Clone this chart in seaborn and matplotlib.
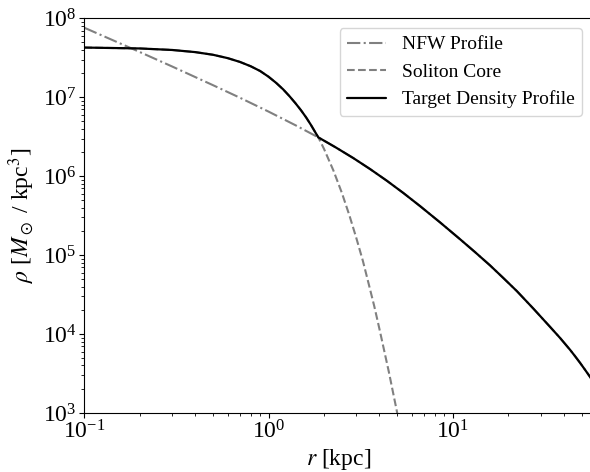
import numpy as np
import pandas as pd
import matplotlib
matplotlib.use("Agg")
import matplotlib.pyplot as plt
import seaborn as sns

# Radii [kpc] and densities [Msun / kpc^3] for each profile
r_nfw = [0.1, 0.15, 0.2, 0.3, 0.5, 0.7, 1.0, 1.4, 1.864, 2.32, 2.887, 3.56,
         4.383, 5.40, 6.645, 8.53, 10.96, 13.2, 15.94, 18.8, 22.26, 27.4,
         33.75, 38.3, 43.35, 46.1, 49.1, 52.2, 55.6, 60.0]
rho_nfw = [7.60e7, 5.02e7, 3.74e7, 2.45e7, 1.42e7, 9.85e6, 6.58e6, 4.42e6,
           3.10e6, 2.31e6, 1.694e6, 1.23e6, 8.77e5, 6.11e5, 4.18e5, 2.60e5,
           1.589e5, 1.094e5, 7.41e4, 5.14e4, 3.51e4, 2.10e4, 1.233e4, 8.89e3,
           6.31e3, 5.25e3, 4.32e3, 3.54e3, 2.87e3, 2.20e3]

r_sol = [0.1, 0.2, 0.3, 0.4, 0.5, 0.6, 0.7, 0.8, 0.9, 1.0, 1.1, 1.2, 1.3,
         1.4, 1.5, 1.6, 1.7, 1.8, 1.864, 2.0, 2.25, 2.5, 2.75, 3.0, 3.25,
         3.5, 3.75, 4.0, 4.5, 5.0, 5.25]
rho_sol = [4.26e7, 4.15e7, 3.97e7, 3.73e7, 3.45e7, 3.13e7, 2.80e7, 2.47e7,
           2.15e7, 1.82e7, 1.52e7, 1.26e7, 1.03e7, 8.40e6, 6.85e6, 5.55e6,
           4.45e6, 3.55e6, 3.10e6, 2.22e6, 1.18e6, 6.16e5, 3.17e5, 1.63e5,
           8.50e4, 4.29e4, 2.25e4, 1.16e4, 3.31e3, 9.90e2, 5.20e2]

# Transition radius between the soliton core and the NFW envelope
r_t = 1.864

nfw = pd.DataFrame({"r": r_nfw, "rho": rho_nfw})
sol = pd.DataFrame({"r": r_sol, "rho": rho_sol})
target = pd.concat([sol[sol["r"] < r_t], nfw[nfw["r"] >= r_t]],
                   ignore_index=True)

sns.set_style("ticks", rc={
    "axes.edgecolor": "black",
    "xtick.color": "black",
    "ytick.color": "black",
    "text.color": "black",
    "axes.labelcolor": "black",
})
plt.rcParams["font.family"] = ["Liberation Serif", "DejaVu Serif"]
plt.rcParams["mathtext.fontset"] = "stix"

fig = plt.figure(figsize=(5.9, 4.72), dpi=100)
ax = fig.add_axes([84.3 / 590, 59 / 472, (592 - 84.3) / 590, 394.7 / 472])

sns.lineplot(data=nfw, x="r", y="rho", ax=ax, color="gray", linestyle="-.",
             linewidth=1.5, label="NFW Profile")
sns.lineplot(data=sol, x="r", y="rho", ax=ax, color="gray", linestyle="--",
             linewidth=1.5, label="Soliton Core")
sns.lineplot(data=target, x="r", y="rho", ax=ax, color="black",
             linestyle="-", linewidth=1.6, label="Target Density Profile")

ax.set_xscale("log")
ax.set_yscale("log")
ax.set_xlim(0.1, 57.0)
ax.set_ylim(1e3, 1e8)
ax.tick_params(axis="both", which="major", labelsize=17, pad=2)
ax.set_xlabel(r"$r$ [kpc]", fontsize=17, labelpad=2)
ax.set_ylabel(r"$\rho$ [$M_\odot$ / kpc$^3$]", fontsize=17, labelpad=4)
ax.legend(loc="upper right", fontsize=14, frameon=True)

fig.savefig("out.png", dpi=100)
